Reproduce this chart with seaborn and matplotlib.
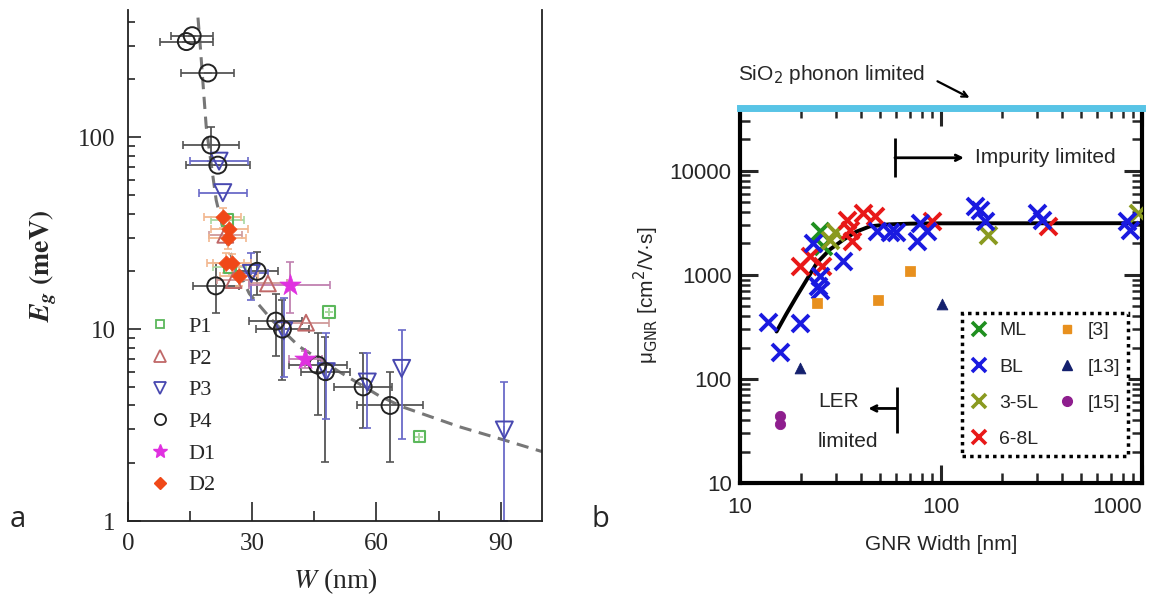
import numpy as np
import pandas as pd
import matplotlib
matplotlib.use('Agg')
import matplotlib.pyplot as plt
import matplotlib.ticker as mticker
import seaborn as sns
from matplotlib.lines import Line2D

# ---------------------------------------------------------
# Panel a data: band gap vs ribbon width
# ---------------------------------------------------------
P4_w = [14.1, 15.5, 19.3, 20.0, 21.7, 21.2, 31.2, 35.7, 37.3, 45.8, 47.7, 56.8, 63.3]
P4_e = [315, 338, 216, 91, 71.5, 16.8, 20, 11.0, 10.0, 6.5, 6.0, 5.0, 4.0]
P4_werr = [6.4, 5.0, 6.4, 6.8, 7.8, 5.6, 5.0, 6.4, 6.3, 7.0, 6.0, 7.0, 8.0]
P4_elo = [315, 338, 216, 75, 71.5, 12.1, 15.0, 7.2, 5.4, 3.56, 2.04, 3.05, 2.04]
P4_ehi = [315, 338, 216, 113, 71.5, 22.0, 25.3, 15.3, 14.1, 9.5, 9.1, 7.5, 6.0]

P3_w = [22.9, 22.0, 29.8, 37.6, 47.9, 57.8, 66.1, 90.9]
P3_e = [51.4, 75, 19.5, 9.8, 6.0, 5.3, 6.24, 2.98]
P3_werr = [5.8, 7.0, 4.0, 0, 0, 0, 0, 0]
P3_elo = [51.4, 75, 14.1, 5.6, 3.4, 3.05, 2.66, 1.0]
P3_ehi = [51.4, 75, 25.0, 14.5, 9.5, 7.5, 9.9, 5.3]

P2_w = [23.5, 25.5, 33.8, 43.0]
P2_e = [31, 18, 17.3, 10.8]
P2_werr = [4.0, 4.0, 4.5, 5.5]

P1_w = [24.0, 24.6, 48.6, 70.4]
P1_e = [37, 21, 12.3, 2.75]
P1_werr = [4.0, 4.0, 0, 0]

D1_w = [39.1, 42.8]
D1_e = [16.9, 7.0]
D1_werr = [9.8, 4.0]
D1_elo = [12.1, 6.3]
D1_ehi = [22.4, 7.7]

D2_w = [22.9, 24.5, 24.1, 23.6, 25.1, 26.8]
D2_e = [38.3, 33.3, 29.8, 22.2, 22.0, 19.0]
D2_werr = [4.5, 4.5, 4.5, 4.5, 4.5, 4.5]

fit_a_w = [16.9, 17.5, 18.2, 18.9, 20.0, 21.3, 23.0, 25.0, 29.3, 35.0, 41.4, 51.0, 60.6, 66.2, 80.0, 90.9, 100.0]
fit_a_e = [420, 290, 180, 113, 75, 47, 33, 24, 15.3, 11.0, 8.1, 6.0, 4.5, 3.94, 3.1, 2.64, 2.3]

a_labels = ['P1', 'P2', 'P3', 'P4', 'D1', 'D2']
a_xticks = [0, 30, 60, 90]
a_yticks = [1, 10, 100]
a_yticklabels = ['1', '10', '100']

# ---------------------------------------------------------
# Panel b data: mobility vs GNR width
# ---------------------------------------------------------
ML_w = [25.0, 25.9]
ML_mu = [2650, 1870]
BL_w = [13.8, 15.9, 19.9, 23.2, 25.0, 25.0, 24.5, 32.7, 47.9, 55.7, 60.0, 75.6, 78.6, 84.9,
        147.5, 156, 165.7, 299, 317, 840, 872]
BL_mu = [355, 180, 343, 2018, 963, 717, 773, 1343, 2606, 2600, 2600, 2090, 3140, 2606,
         4540, 4220, 3260, 3920, 3380, 3260, 2710]
L35_w = [28.1, 29.7, 172, 959]
L35_mu = [2173, 2600, 2427, 3920]
L68_w = [19.9, 22.3, 25.5, 34.0, 35.3, 35.9, 41.0, 47.0, 89.9, 342]
L68_mu = [1203, 1500, 1203, 3380, 2710, 2090, 3920, 3640, 3260, 2920]
ref3_w = [24.1, 48.7, 70.1]
ref3_mu = [534, 575, 1076]
ref13_w = [19.9, 101]
ref13_mu = [127, 520]
ref15_w = [15.9, 15.9]
ref15_mu = [37, 44]

fit_b_w = [15.2, 17.0, 19.1, 21.5, 24.1, 28.0, 32.7, 38.0, 44.3, 55.0, 70.0, 100.0, 1000.0]
fit_b_mu = [285, 420, 617, 900, 1297, 1750, 2173, 2600, 2920, 3050, 3100, 3120, 3130]

b_labels = ['ML', 'BL', '3-5L', '6-8L', '[3]', '[13]', '[15]']
b_xticks = [10, 100, 1000]
b_xticklabels = ['10', '100', '1000']
b_yticks = [10, 100, 1000, 10000]
b_yticklabels = ['10', '100', '1000', '10000']

# ---------------------------------------------------------
sns.set_style('ticks')
plt.rcParams['font.family'] = ['Liberation Serif', 'DejaVu Serif']
plt.rcParams['mathtext.fontset'] = 'stix'

fig = plt.figure(figsize=(11.55, 6.16), dpi=100)
ax = fig.add_axes([128 / 1155, 1 - 521 / 616, 414 / 1155, 511 / 616])
ax2 = fig.add_axes([740 / 1155, 1 - 483 / 616, 402 / 1155, 375 / 616])

# ----------------------- panel a -------------------------
ax.set_yscale('log')
ax.set_xlim(0, 100)
ax.set_ylim(1, 460)

def err(w, e, werr, lo, hi, color):
    e = np.array(e)
    ax.errorbar(w, e, xerr=werr, yerr=[e - np.array(lo), np.array(hi) - e],
                fmt='none', ecolor=color, elinewidth=1.3, capsize=3, capthick=1.2, zorder=2)

err(P4_w, P4_e, P4_werr, P4_elo, P4_ehi, '#555555')
err(P3_w, P3_e, P3_werr, P3_elo, P3_ehi, '#6a6ac8')
err(P2_w, P2_e, P2_werr, P2_e, P2_e, '#d09a9a')
err(P1_w, P1_e, P1_werr, P1_e, P1_e, '#a8d8a0')
err(D1_w, D1_e, D1_werr, D1_elo, D1_ehi, '#c080b0')
err(D2_w, D2_e, D2_werr, np.array(D2_e) * 0.88, np.array(D2_e) * 1.12, '#f2b890')

sns.lineplot(x=fit_a_w, y=fit_a_e, ax=ax, color='#777777', lw=2.2, dashes=(4, 2.5),
             estimator=None, sort=False, zorder=1)

sns.scatterplot(x=P1_w, y=P1_e, ax=ax, marker='s', s=70, facecolor='none',
                edgecolor='#5cb85c', linewidth=1.5, zorder=3)
sns.scatterplot(x=P2_w, y=P2_e, ax=ax, marker='^', s=130, facecolor='none',
                edgecolor='#c06868', linewidth=1.4, zorder=3)
sns.scatterplot(x=P3_w, y=P3_e, ax=ax, marker='v', s=150, facecolor='none',
                edgecolor='#4848b0', linewidth=1.4, zorder=3)
sns.scatterplot(x=P4_w, y=P4_e, ax=ax, marker='o', s=150, facecolor='none',
                edgecolor='#222222', linewidth=1.4, zorder=4)
sns.scatterplot(x=D1_w, y=D1_e, ax=ax, marker='*', s=260, color='#e030e0',
                edgecolor='#e030e0', linewidth=0.5, zorder=4)
sns.scatterplot(x=D2_w, y=D2_e, ax=ax, marker='D', s=60, color='#f04818',
                edgecolor='#f04818', linewidth=0.5, zorder=5)

ax.set_xticks(a_xticks)
ax.set_xticklabels([str(t) for t in a_xticks])
ax.xaxis.set_minor_locator(mticker.MultipleLocator(15))
ax.set_yticks(a_yticks)
ax.set_yticklabels(a_yticklabels)
ax.yaxis.set_minor_locator(mticker.LogLocator(base=10, subs=np.arange(2, 10)))
ax.yaxis.set_minor_formatter(mticker.NullFormatter())
ax.tick_params(axis='x', which='major', direction='in', length=14, width=1.2,
               labelsize=18, pad=9, bottom=True, top=False)
ax.tick_params(axis='x', which='minor', direction='in', length=7, width=1.2, bottom=True, top=False)
ax.tick_params(axis='y', which='major', direction='in', length=9, width=1.2,
               labelsize=18, pad=9, left=True, right=False)
ax.tick_params(axis='y', which='minor', direction='in', length=5, width=1.2, left=True, right=False)
for s in ['left', 'bottom', 'right']:
    ax.spines[s].set_linewidth(1.3)
    ax.spines[s].set_color('#222222')
ax.spines['top'].set_visible(False)

ax.set_xlabel(r'$W$ (nm)', fontsize=20, labelpad=8)
ax.set_ylabel(r'$\mathbfit{E}_{\mathbfit{g}}$ $\mathbf{(meV)}$', fontsize=20, labelpad=14)

a_handles = [
    Line2D([], [], ls='none', marker='s', ms=6, mfc='none', mec='#5cb85c', mew=1.3),
    Line2D([], [], ls='none', marker='^', ms=8, mfc='none', mec='#c06868', mew=1.3),
    Line2D([], [], ls='none', marker='v', ms=8, mfc='none', mec='#4848b0', mew=1.3),
    Line2D([], [], ls='none', marker='o', ms=8, mfc='none', mec='#222222', mew=1.3),
    Line2D([], [], ls='none', marker='*', ms=10, color='#e030e0'),
    Line2D([], [], ls='none', marker='D', ms=6, color='#f04818'),
]
ax.legend(a_handles, a_labels, loc='lower left', bbox_to_anchor=(0.055, 0.05),
          frameon=False, fontsize=16, handlelength=0.8, handletextpad=0.9,
          labelspacing=0.5, borderaxespad=0, borderpad=0)

# ----------------------- panel b -------------------------
sans = ['Liberation Sans', 'DejaVu Sans']
ax2.set_xscale('log')
ax2.set_yscale('log')
ax2.set_xlim(10, 1000)
ax2.set_ylim(10, 40000)

sns.lineplot(x=fit_b_w, y=fit_b_mu, ax=ax2, color='black', lw=2.8,
             estimator=None, sort=False, zorder=2)

x_kw = dict(marker='x', s=150, linewidth=2.8, zorder=3)
sns.scatterplot(x=ML_w, y=ML_mu, ax=ax2, color='#1f8f1f', **x_kw)
sns.scatterplot(x=L35_w, y=L35_mu, ax=ax2, color='#8a9a20', **x_kw)
sns.scatterplot(x=L68_w, y=L68_mu, ax=ax2, color='#e81818', **x_kw)
sns.scatterplot(x=BL_w, y=BL_mu, ax=ax2, color='#1a1ae0', **x_kw)
sns.scatterplot(x=ref3_w, y=ref3_mu, ax=ax2, marker='s', s=45, color='#e8901e',
                edgecolor='#e8901e', zorder=3)
sns.scatterplot(x=ref13_w, y=ref13_mu, ax=ax2, marker='^', s=60, color='#14206e',
                edgecolor='#14206e', zorder=3)
sns.scatterplot(x=ref15_w, y=ref15_mu, ax=ax2, marker='o', s=55, color='#8e1e8e',
                edgecolor='#8e1e8e', zorder=3)

ax2.set_xticks(b_xticks)
ax2.set_xticklabels(b_xticklabels)
ax2.set_yticks(b_yticks)
ax2.set_yticklabels(b_yticklabels)
for axis in (ax2.xaxis, ax2.yaxis):
    axis.set_minor_locator(mticker.LogLocator(base=10, subs=np.arange(2, 10)))
    axis.set_minor_formatter(mticker.NullFormatter())
ax2.tick_params(which='major', direction='in', length=13, width=2.2, labelsize=16,
                top=True, right=True, bottom=True, left=True)
ax2.tick_params(which='minor', direction='in', length=7, width=1.8,
                top=True, right=True, bottom=True, left=True)
ax2.tick_params(axis='x', pad=10)
ax2.tick_params(axis='y', pad=6)
for lab in ax2.get_xticklabels() + ax2.get_yticklabels():
    lab.set_family(sans)
# the last x label sits at the right edge; keep it inside the picture
ax2.get_xticklabels()[-1].set_horizontalalignment('right')
for s in ['left', 'bottom', 'right']:
    ax2.spines[s].set_linewidth(3)
    ax2.spines[s].set_color('black')
ax2.spines['top'].set_linewidth(5)
ax2.spines['top'].set_color('#58c4e6')

ax2.set_xlabel('GNR Width [nm]', fontsize=15, family=sans, labelpad=12)
ax2.set_ylabel(r'μ$_{\mathrm{GNR}}$ [cm$^2$/V·s]', fontsize=15, family=sans,
               math_fontfamily='dejavusans', labelpad=6)

fig.text(832 / 1155, 1 - 75 / 616, r'SiO$_2$ phonon limited', fontsize=15, family=sans,
         math_fontfamily='dejavusans', ha='center', va='center')
ax2.annotate('', xy=(972 / 1155, 1 - 99 / 616), xycoords='figure fraction',
             xytext=(935 / 1155, 1 - 80 / 616), textcoords='figure fraction',
             arrowprops=dict(arrowstyle='->', lw=1.6, color='black'))

ax2.vlines(59, 8750, 20700, color='black', lw=2)
ax2.annotate('', xy=(130, 13300), xytext=(59, 13300),
             arrowprops=dict(arrowstyle='->', lw=2, color='black', shrinkA=0, shrinkB=0))
ax2.text(148, 13300, 'Impurity limited', fontsize=15, family=sans, va='center', ha='left')

ax2.vlines(60.2, 30, 84, color='black', lw=2)
ax2.annotate('', xy=(43.5, 52), xytext=(60.2, 52),
             arrowprops=dict(arrowstyle='->', lw=2, color='black', shrinkA=0, shrinkB=0))
ax2.text(24.4, 60.5, 'LER', fontsize=15, family=sans, va='center', ha='left')
ax2.text(24.4, 25, 'limited', fontsize=15, family=sans, va='center', ha='left')

b_handles = [
    Line2D([], [], ls='none', marker='x', ms=10, mew=2.6, color='#1f8f1f'),
    Line2D([], [], ls='none', marker='x', ms=10, mew=2.6, color='#1a1ae0'),
    Line2D([], [], ls='none', marker='x', ms=10, mew=2.6, color='#8a9a20'),
    Line2D([], [], ls='none', marker='x', ms=10, mew=2.6, color='#e81818'),
    Line2D([], [], ls='none', marker='s', ms=6, color='#e8901e'),
    Line2D([], [], ls='none', marker='^', ms=7, color='#14206e'),
    Line2D([], [], ls='none', marker='o', ms=7, color='#8e1e8e'),
]
leg = ax2.legend(b_handles, b_labels, ncol=2, loc='upper left', bbox_to_anchor=(0.551, 0.453),
                 frameon=True, fancybox=False, edgecolor='black', framealpha=1,
                 prop={'family': sans, 'size': 14}, handlelength=0.9, handletextpad=0.6,
                 columnspacing=1.0, labelspacing=0.95, borderpad=0.45, borderaxespad=0)
leg.get_frame().set_linestyle((0, (1, 1.2)))
leg.get_frame().set_linewidth(2.5)

fig.text(10 / 1155, 1 - 527 / 616, 'a', fontsize=21, family=['Open Sans', 'DejaVu Sans'],
         va='baseline', ha='left')
fig.text(592 / 1155, 1 - 527 / 616, 'b', fontsize=21, family=['Open Sans', 'DejaVu Sans'],
         va='baseline', ha='left')

fig.savefig('out.png', dpi=100)
